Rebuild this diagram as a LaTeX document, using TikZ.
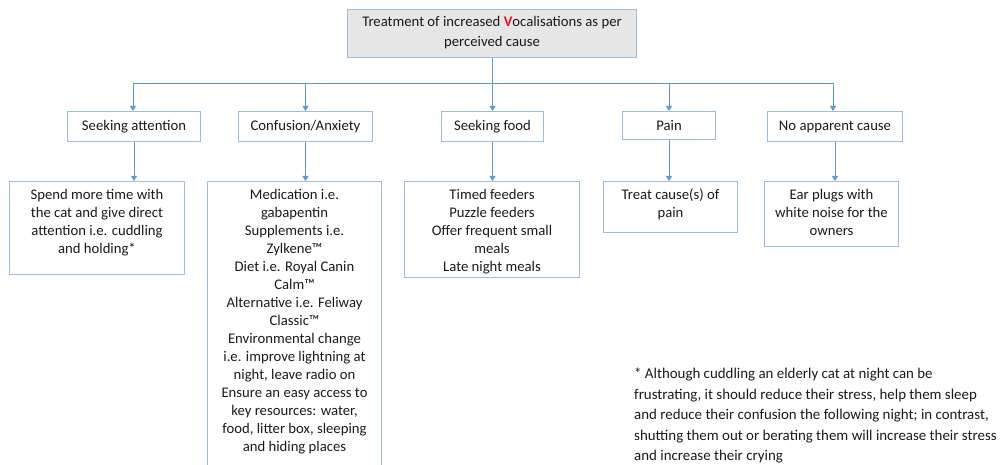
\documentclass[tikz,border=0pt]{standalone}
\usepackage{fontspec}
\setmainfont{Carlito}
\usetikzlibrary{arrows.meta}
\definecolor{boxline}{HTML}{9DBDDF}
\definecolor{arrowline}{HTML}{5B9BD5}
\definecolor{titlefill}{HTML}{E7E6E6}
\definecolor{vred}{HTML}{E8141B}
\definecolor{textcol}{HTML}{1A1A1A}
\begin{document}
\begin{tikzpicture}[x=1pt,y=-1pt,
  box/.style={draw=boxline, line width=1pt, rectangle, inner sep=0pt, anchor=north west},
  txt/.style={align=center, inner sep=0pt, font=\fontsize{14.7}{18}\selectfont, text=textcol},
  conn/.style={draw=arrowline, line width=0.9pt},
  arr/.style={conn, -{Triangle[width=6pt,length=5pt]}}
]
\useasboundingbox (0,0) rectangle (1003,465);
\begin{scope}
\clip (0,0) rectangle (1003,465);
% title
\node[box, fill=titlefill, minimum width=289pt, minimum height=48pt] (title) at (347,9) {};
\node[txt, font=\fontsize{14.7}{20}\selectfont] (titletxt) at ([yshift=1pt]title.center) {Treatment of increased {\color{vred}\textbf{V}}ocalisations as per\\perceived cause};
% level 1
\node[box, minimum width=133pt, minimum height=30pt] (att) at (67,111) {};
\node[txt] at (att.center) {Seeking attention};
\node[box, minimum width=134pt, minimum height=30pt] (conf) at (238,111) {};
\node[txt] at (conf.center) {Confusion/Anxiety};
\node[box, minimum width=102pt, minimum height=30pt] (food) at (441,111) {};
\node[txt] at (food.center) {Seeking food};
\node[box, minimum width=93pt, minimum height=28pt] (pain) at (622,111) {};
\node[txt] at (pain.center) {Pain};
\node[box, minimum width=135pt, minimum height=30pt] (nac) at (767,111) {};
\node[txt] at (nac.center) {No apparent cause};
% level 2
\node[box, minimum width=175pt, minimum height=93pt] (spend) at (9,181) {};
\node[txt, anchor=north] at ([yshift=-8pt]spend.north) {Spend more time with\\the cat and give direct\\attention i.e. cuddling\\and holding*};
\node[box, minimum width=174pt, minimum height=300pt] (med) at (207,181) {};
\node[txt, anchor=north] at ([yshift=-8pt]med.north) {Medication i.e.\\gabapentin\\Supplements i.e.\\Zylkene™\\Diet i.e. Royal Canin\\Calm™\\Alternative i.e. Feliway\\Classic™\\Environmental change\\i.e. improve lightning at\\night, leave radio on\\Ensure an easy access to\\key resources: water,\\food, litter box, sleeping\\and hiding places};
\node[box, minimum width=175pt, minimum height=96pt] (timed) at (404,181) {};
\node[txt, anchor=north] at ([yshift=-8pt]timed.north) {Timed feeders\\Puzzle feeders\\Offer frequent small\\meals\\Late night meals};
\node[box, minimum width=134pt, minimum height=51pt] (treat) at (603,181) {};
\node[txt, anchor=north] at ([yshift=-8pt]treat.north) {Treat cause(s) of\\pain};
\node[box, minimum width=134pt, minimum height=65pt] (ear) at (764,181) {};
\node[txt, anchor=north] at ([yshift=-8pt]ear.north) {Ear plugs with\\white noise for the\\owners};
% footnote
\node[txt, align=left, anchor=north west, font=\fontsize{14.9}{20.5}\selectfont] (note) at (634,368) {* Although cuddling an elderly cat at night can be\\frustrating, it should reduce their stress, help them sleep\\and reduce their confusion the following night; in contrast,\\shutting them out or berating them will increase their stress\\and increase their crying};
% connectors
\coordinate (hl) at (133,83);
\coordinate (hr) at (833,83);
\draw[conn] (hl) -- (hr);
\draw[arr] (title.south -| food.north) -- (food.north);
\draw[arr] (hl) -- (hl |- att.north);
\draw[arr] (conf.north |- hl) -- (conf.north);
\draw[arr] (pain.north |- hl) -- (pain.north);
\draw[arr] (hr) -- (hr |- nac.north);
\draw[arr] (att.south) -- (att.south |- spend.north);
\draw[arr] (conf.south) -- (conf.south |- med.north);
\draw[arr] (food.south) -- (food.south |- timed.north);
\draw[arr] (pain.south) -- (pain.south |- treat.north);
\draw[arr] (nac.south) -- (nac.south |- ear.north);
\end{scope}
\end{tikzpicture}
\end{document}
